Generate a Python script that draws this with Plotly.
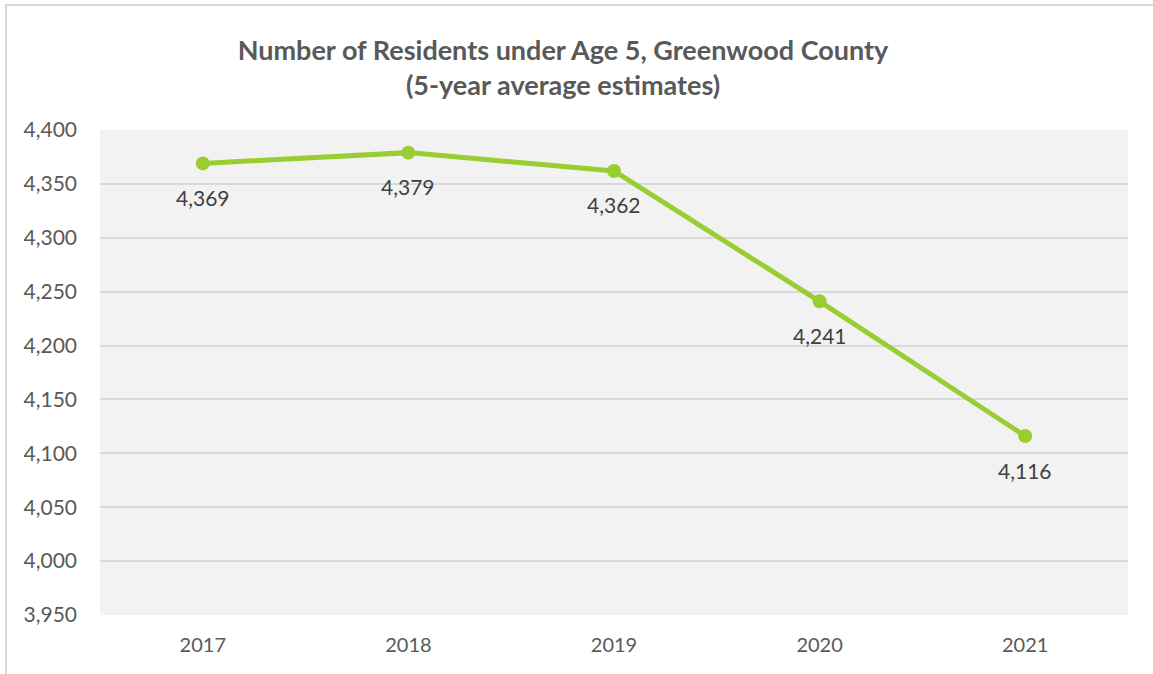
import plotly.graph_objects as go

years = ["2017", "2018", "2019", "2020", "2021"]
residents = [4369, 4379, 4362, 4241, 4116]
y_ticks = [3950, 4000, 4050, 4100, 4150, 4200, 4250, 4300, 4350, 4400]

FONT = "Lato"
GREEN = "#9ACD32"

fig = go.Figure()
fig.add_trace(go.Scatter(
    x=years, y=residents, mode="lines+markers",
    line=dict(color=GREEN, width=5),
    marker=dict(color=GREEN, size=14),
    hoverinfo="skip", showlegend=False,
))

for i, y in enumerate(residents):
    fig.add_annotation(x=i, y=y, xref="x", yref="y", text=f"{y:,}", showarrow=False,
                       yshift=-34, font=dict(family=FONT, size=21, color="#404040"))

fig.update_layout(
    width=1153, height=674,
    margin=dict(l=100, r=25, t=130, b=59),
    paper_bgcolor="white", plot_bgcolor="#F2F2F2",
    title=dict(text="<b>Number of Residents under Age 5, Greenwood County<br>(5-year average estimates)</b>",
               x=(563 - 100) / 1028, xref="paper", xanchor="center",
               y=1 - 60 / 674, yref="container", yanchor="middle",
               font=dict(family=FONT, size=27, color="#595959")),
    xaxis=dict(type="category", range=[-0.5, 4.5], showgrid=False, zeroline=False,
               showline=False, ticks="", ticklabelstandoff=16,
               tickfont=dict(family=FONT, size=20, color="#595959")),
    yaxis=dict(range=[3950, 4400], tickvals=y_ticks, tickformat=",",
               gridcolor="#D9D9D9", gridwidth=2, zeroline=False, showline=False, ticks="",
               ticklabelstandoff=22,
               tickfont=dict(family=FONT, size=21, color="#595959")),
    shapes=[dict(type="rect", xref="paper", yref="paper",
                 x0=(6 - 100) / 1028, x1=1.2, y0=-0.3, y1=1 + (130 - 5) / 485,
                 line=dict(color="#D9D9D9", width=2), fillcolor="rgba(0,0,0,0)", layer="below")],
)

fig.write_html("out.html")
